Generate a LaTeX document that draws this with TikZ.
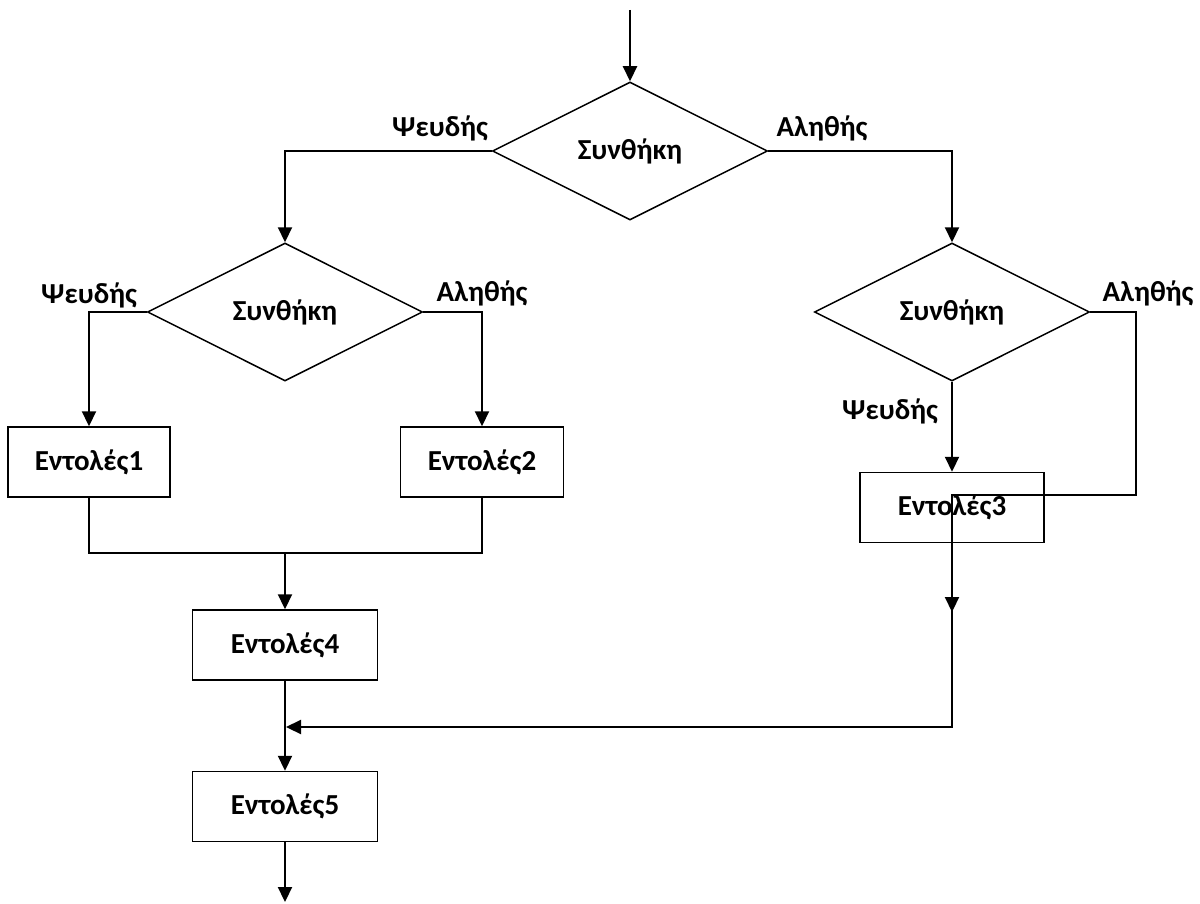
\documentclass[tikz,border=0pt]{standalone}
\usepackage{fontspec}
\setmainfont{Carlito}
\usetikzlibrary{shapes.geometric,arrows.meta}

\tikzset{
	cond/.style={diamond, draw, line width=0.75pt, inner sep=0pt, minimum width=137.5pt, minimum height=69pt},
	cmd/.style={rectangle, draw, line width=0.75pt, inner sep=0pt, minimum height=35pt},
	flow/.style={line width=1.1pt, -{Triangle[length=7.5pt,width=7pt]}},
	link/.style={line width=1.1pt},
	lbl/.style={inner sep=0pt}
}

\begin{document}
\begin{tikzpicture}[x=0.5pt,y=-0.5pt,font=\fontsize{14.5}{16}\bfseries\selectfont]
		\useasboundingbox (0,0) rectangle (1200,904);
		
		\node[cond] (c1) at (630,151) {Συνθήκη};
		\node[cond] (c2) at (285,312) {Συνθήκη};
		\node[cond] (c3) at (952,312) {Συνθήκη};
		
		\node[cmd, minimum width=81pt] (e1) at (89,462) {Εντολές1};
		\node[cmd, minimum width=81.5pt] (e2) at (482,462) {Εντολές2};
		\node[cmd, minimum width=92pt] (e3) at (952,507.5) {Εντολές3};
		\node[cmd, minimum width=92.5pt] (e4) at (285,645) {Εντολές4};
		\node[cmd, minimum width=92.5pt] (e5) at (285,806.5) {Εντολές5};
		
		\node[lbl] (f1) at (440,128) {Ψευδής};
		\node[lbl] (t1) at (822,128) {Αληθής};
		\node[lbl] (f2) at (89,295) {Ψευδής};
		\node[lbl] (t2) at (482,293) {Αληθής};
		\node[lbl] (t3) at (1148,293) {Αληθής};
		\node[lbl] (f3) at (890,411) {Ψευδής};
		
		\coordinate (start) at (630,10);
		\coordinate (m1) at (285,553);
		\coordinate (r1) at (1136,495);
		\coordinate (r2) at (952,495);
		\coordinate (a3) at (952,612);
		\coordinate (m2) at (286,727);
		\coordinate (end) at (285,902);
		
		\draw[flow] (start) -- (c1.north);
		\draw[flow] (c1.west) -| (c2.north);
		\draw[flow] (c1.east) -| (c3.north);
		\draw[flow] (c2.west) -| (e1.north);
		\draw[flow] (c2.east) -| (e2.north);
		\draw[flow] (c3.south) -- (e3.north);
		
		\draw[link] (e1.south) |- (m1) -| (e2.south);
		\draw[flow] (m1) -- (e4.north);
		\draw[flow] (e4.south) -- (e5.north);
		\draw[flow] (e5.south) -- (end);
		
		\draw[flow] (c3.east) -| (r1) -- (r2) -- (a3);
		\draw[flow] (r2) |- (m2);
		
\end{tikzpicture}
\end{document}
